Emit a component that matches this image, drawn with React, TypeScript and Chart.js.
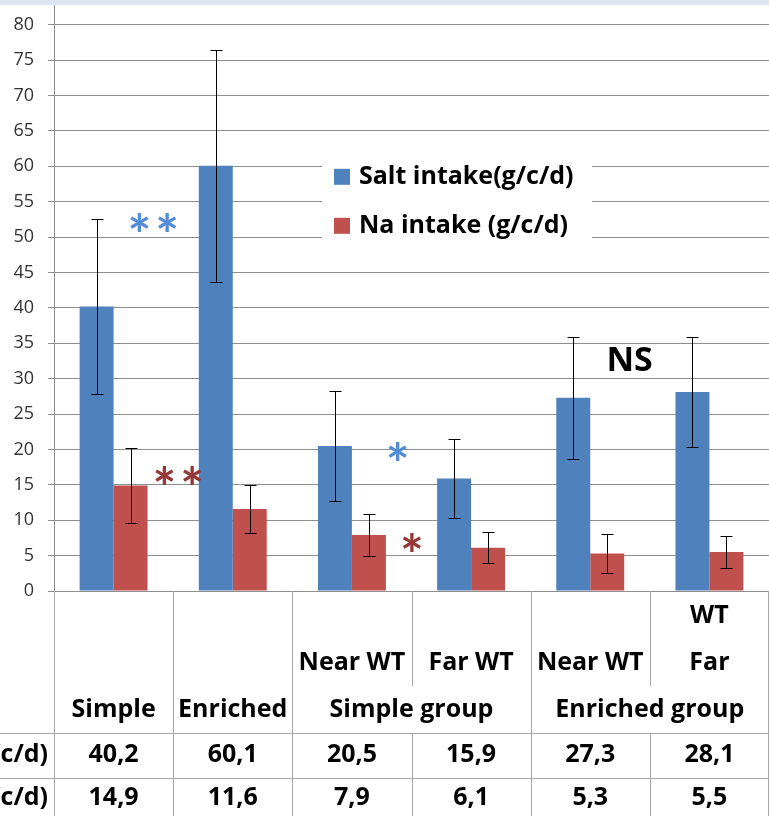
import { useEffect, useRef } from "react";
import { Chart, registerables } from "chart.js";

Chart.register(...registerables);

// ---------- data ----------
const categories = ["Simple", "Enriched", "Near WT", "Far WT", "Near WT", "Far WT"];
const subLabels: (string | string[])[] = ["", "", "Near WT", "Far WT", "Near WT", ["WT", "Far"]];
const groupLabels = ["Simple", "Enriched", "Simple group", "Enriched group"];
const groupSpans = [1, 1, 2, 2];
const seriesNames = ["Salt intake(g/c/d)", "Na intake (g/c/d)"];
const saltIntake = [40.2, 60.1, 20.5, 15.9, 27.3, 28.1];
const naIntake = [14.9, 11.6, 7.9, 6.1, 5.3, 5.5];
const saltErr = [12.4, 16.4, 7.8, 5.6, 8.6, 7.8];
const naErr = [5.3, 3.4, 3.0, 2.2, 2.7, 2.3];
const yTicksMax = 80;
const yTicksStep = 5;
const annotations = [
  { text: "**", color: "#538dd5", at: 0.33, value: 52.1 },
  { text: "**", color: "#953735", at: 0.54, value: 16.3 },
  { text: "*", color: "#538dd5", at: 2.38, value: 19.7 },
  { text: "*", color: "#953735", at: 2.5, value: 6.8 },
  { text: "NS", color: "#000000", at: 4.34, value: 32.8 },
];

// ---------- styles ----------
const FONT = "'Open Sans', Lato, 'DejaVu Sans', sans-serif";
const STAR_FONT = "Lato, 'DejaVu Sans', sans-serif";
const BLUE = "#4f81bd";
const RED = "#c0504d";
const GRID = "#8e8e8e";
const TABLE_LINE = "#a6a6a6";

const fmt = (v: number) => v.toFixed(1).replace(".", ",");

function drawCentered(ctx: CanvasRenderingContext2D, text: string, cx: number, cy: number) {
  ctx.textAlign = "left";
  ctx.textBaseline = "alphabetic";
  const m = ctx.measureText(text);
  const w = m.actualBoundingBoxRight + m.actualBoundingBoxLeft;
  const x = cx - w / 2 + m.actualBoundingBoxLeft;
  const y = cy + (m.actualBoundingBoxAscent - m.actualBoundingBoxDescent) / 2;
  ctx.fillText(text, x, y);
}

const tablePlugin = {
  id: "tablePlugin",
  beforeDraw(chart: any) {
    const { ctx, width } = chart;
    ctx.save();
    ctx.fillStyle = "#dce6f2";
    ctx.fillRect(0, 0, width, 5);
    ctx.restore();
  },
  afterDatasetsDraw(chart: any) {
    const { ctx } = chart;
    const y = chart.scales.y;
    ctx.save();
    ctx.strokeStyle = "#000000";
    ctx.lineWidth = 1;
    const errs = [saltErr, naErr];
    const vals = [saltIntake, naIntake];
    for (let d = 0; d < 2; d++) {
      const meta = chart.getDatasetMeta(d);
      meta.data.forEach((bar: any, i: number) => {
        const x = Math.round(bar.x) + 0.5;
        const top = Math.round(y.getPixelForValue(vals[d][i] + errs[d][i])) + 0.5;
        const bot = Math.round(y.getPixelForValue(vals[d][i] - errs[d][i])) + 0.5;
        ctx.beginPath();
        ctx.moveTo(x, top);
        ctx.lineTo(x, bot);
        ctx.moveTo(x - 6, top);
        ctx.lineTo(x + 6, top);
        ctx.moveTo(x - 6, bot);
        ctx.lineTo(x + 6, bot);
        ctx.stroke();
      });
    }
    ctx.restore();
  },
  afterDraw(chart: any) {
    const { ctx, chartArea, width, height } = chart;
    const xs = chart.scales.x;
    const ys = chart.scales.y;
    const n = categories.length;
    const cw = chartArea.width / n;
    const bx = (k: number) => Math.round(chartArea.left + k * cw) + 0.5;
    const base = chartArea.bottom;
    const subBottom = base + 95;
    const h1 = Math.round(base + 142) + 0.5;
    const h2 = Math.round(base + 187) + 0.5;
    const row1 = base + 164;
    const row2 = base + 207;
    ctx.save();

    // axis extension to top band
    ctx.strokeStyle = GRID;
    ctx.lineWidth = 1;
    ctx.beginPath();
    ctx.moveTo(Math.round(chartArea.left) + 0.5, 5);
    ctx.lineTo(Math.round(chartArea.left) + 0.5, chartArea.top);
    ctx.stroke();

    // table lines
    ctx.strokeStyle = TABLE_LINE;
    ctx.beginPath();
    const groupStarts: number[] = [];
    let acc = 0;
    groupSpans.forEach((s) => {
      groupStarts.push(acc);
      acc += s;
    });
    for (let k = 0; k <= n; k++) {
      const x = k === n ? width - 0.5 : bx(k);
      const isGroupEdge = k === 0 || k === n || groupStarts.includes(k);
      if (isGroupEdge) {
        ctx.moveTo(x, base);
        ctx.lineTo(x, height);
      } else {
        ctx.moveTo(x, base);
        ctx.lineTo(x, subBottom);
        ctx.moveTo(x, h1);
        ctx.lineTo(x, height);
      }
    }
    ctx.moveTo(0, h1);
    ctx.lineTo(width, h1);
    ctx.moveTo(0, h2);
    ctx.lineTo(width, h2);
    ctx.stroke();

    // texts
    ctx.fillStyle = "#000000";
    ctx.font = `bold 25px ${FONT}`;
    ctx.textAlign = "center";
    ctx.textBaseline = "middle";
    subLabels.forEach((lab, i) => {
      const cx = xs.getPixelForValue(i);
      const lines = Array.isArray(lab) ? lab : lab ? [lab] : [];
      lines.forEach((t, j) => {
        const cy = base + 72 - (lines.length - 1 - j) * 47;
        ctx.fillText(t, cx, cy);
      });
    });
    groupLabels.forEach((g, gi) => {
      const s = groupStarts[gi];
      const e = s + groupSpans[gi];
      const cx = chartArea.left + ((s + e) / 2) * cw;
      ctx.fillText(g, cx, base + 119);
    });
    saltIntake.forEach((v, i) => ctx.fillText(fmt(v), xs.getPixelForValue(i), row1));
    naIntake.forEach((v, i) => ctx.fillText(fmt(v), xs.getPixelForValue(i), row2));
    ctx.textAlign = "right";
    ctx.fillText(seriesNames[0], chartArea.left - 6, row1);
    ctx.fillText(seriesNames[1], chartArea.left - 6, row2);

    // legend
    const lx = chartArea.left + 268;
    const ly = chartArea.top + 127;
    ctx.fillStyle = "#ffffff";
    ctx.fillRect(lx, ly, 270, 100);
    const colors = [BLUE, RED];
    seriesNames.forEach((name, i) => {
      const cy = ly + 25 + i * 49;
      ctx.fillStyle = colors[i];
      ctx.fillRect(lx + 12, cy - 8, 16, 16);
      ctx.fillStyle = "#000000";
      ctx.textAlign = "left";
      ctx.textBaseline = "middle";
      ctx.fillText(name, lx + 37, cy);
    });

    // annotations
    annotations.forEach((a) => {
      const cx = xs.getPixelForValue(a.at);
      const cy = ys.getPixelForValue(a.value);
      ctx.fillStyle = a.color;
      if (a.text === "NS") {
        ctx.font = `bold 34px ${FONT}`;
        (ctx as any).letterSpacing = "0px";
      } else {
        ctx.font = `bold 56px ${STAR_FONT}`;
        (ctx as any).letterSpacing = "4px";
      }
      drawCentered(ctx, a.text, cx, cy);
    });
    (ctx as any).letterSpacing = "0px";
    ctx.restore();
  },
};

export default function App() {
  const ref = useRef<HTMLCanvasElement>(null);
  useEffect(() => {
    const canvas = ref.current!;
    const chart = new Chart(canvas, {
      type: "bar",
      data: {
        labels: categories,
        datasets: [
          { label: seriesNames[0], data: saltIntake, backgroundColor: BLUE, borderWidth: 0 },
          { label: seriesNames[1], data: naIntake, backgroundColor: RED, borderWidth: 0 },
        ],
      },
      options: {
        responsive: false,
        animation: false,
        devicePixelRatio: 1,
        layout: { padding: { top: 23, left: 0, right: 0, bottom: 0 } },
        datasets: { bar: { categoryPercentage: 0.57, barPercentage: 1 } },
        plugins: { legend: { display: false }, tooltip: { enabled: false } },
        scales: {
          x: {
            ticks: { display: false },
            grid: { display: false },
            border: { display: false },
            afterFit: (s: any) => {
              s.height = 225;
            },
          },
          y: {
            min: 0,
            max: yTicksMax,
            ticks: {
              stepSize: yTicksStep,
              font: { family: FONT, size: 18 },
              color: "#333333",
              padding: 14,
            },
            grid: { color: GRID, tickLength: 6, lineWidth: 1 },
            border: { color: GRID },
            afterFit: (s: any) => {
              s.width = 54;
            },
          },
        },
      },
      plugins: [tablePlugin],
    } as any);
    return () => chart.destroy();
  }, []);
  return (
    <div style={{ position: "absolute", left: 0, top: 0, width: 769, height: 816 }}>
      <canvas ref={ref} width={769} height={816} style={{ display: "block", width: 769, height: 816 }} />
    </div>
  );
}
